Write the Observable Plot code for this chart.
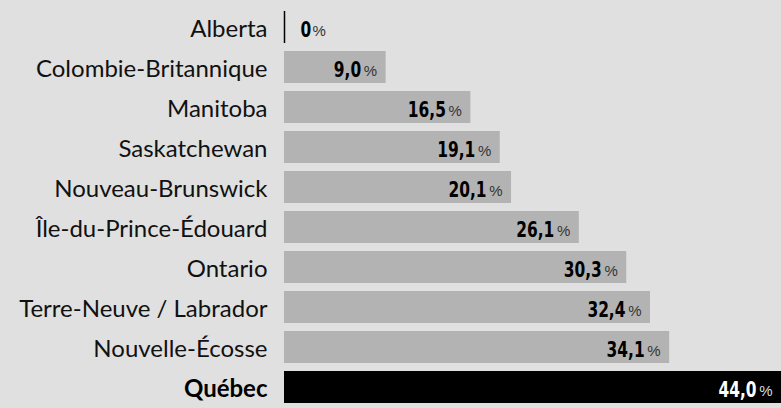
<!DOCTYPE html>
<html>
<head>
<meta charset="utf-8">
<script src="https://cdn.jsdelivr.net/npm/d3@7"></script>
<script src="https://cdn.jsdelivr.net/npm/@observablehq/plot@0.6"></script>
<style>
  html, body { margin: 0; padding: 0; background: #e0e0e0; }
  #chart svg { display: block; }
</style>
</head>
<body>
<div id="chart"></div>
<script>
const provinces = ["Alberta", "Colombie-Britannique", "Manitoba", "Saskatchewan", "Nouveau-Brunswick", "Île-du-Prince-Édouard", "Ontario", "Terre-Neuve / Labrador", "Nouvelle-Écosse", "Québec"];
const values = [0, 9.0, 16.5, 19.1, 20.1, 26.1, 30.3, 32.4, 34.1, 44.0];
const highlight = "Québec";

const data = provinces.map((p, i) => ({province: p, value: values[i]}));
const fmt = v => v === 0 ? "0" : v.toFixed(1).replace(".", ",");
const isHi = d => d.province === highlight;
const normal = data.filter(d => !isHi(d) && d.value > 0);
const hi = data.filter(isHi);
const zero = data.filter(d => d.value === 0);

const numFont = "'DejaVu Sans Condensed', 'DejaVu Sans', sans-serif";
const pctFont = "'Liberation Sans', Arial, sans-serif";
const labFont = "Lato, 'Noto Sans', sans-serif";

const chart = Plot.plot({
  width: 781,
  height: 408,
  marginLeft: 284,
  marginRight: 0,
  marginTop: 5,
  marginBottom: 0,
  style: {background: "#e0e0e0"},
  x: {domain: [0, 44], axis: null},
  y: {domain: provinces, paddingInner: 0.2, paddingOuter: 0.1, axis: null},
  marks: [
    Plot.barX(data, {x: "value", y: "province", fill: d => isHi(d) ? "#000000" : "#b3b3b3"}),
    Plot.tickX(zero, {x: "value", y: "province", stroke: "#000", strokeWidth: 1.5}),
    // province labels
    Plot.text(data.filter(d => !isHi(d)), {x: 0, y: "province", text: "province", textAnchor: "end", dx: -17, dy: 2, fontSize: 24, fill: "#111", fontFamily: labFont}),
    Plot.text(hi, {x: 0, y: "province", text: "province", textAnchor: "end", dx: -17, dy: 2, fontSize: 24, fontWeight: "bold", fill: "#000", fontFamily: labFont}),
    // value labels on bars
    Plot.text(normal, {x: "value", y: "province", text: d => fmt(d.value), textAnchor: "end", dx: -25, dy: 2.5, fontSize: 22, fontWeight: "bold", fill: "#000", fontFamily: numFont}),
    Plot.text(normal, {x: "value", y: "province", text: () => "%", textAnchor: "end", dx: -9, dy: 3.5, fontSize: 15, fill: "#333", fontFamily: pctFont}),
    Plot.text(hi, {x: "value", y: "province", text: d => fmt(d.value), textAnchor: "end", dx: -25, dy: 2.5, fontSize: 22, fontWeight: "bold", fill: "#fff", fontFamily: numFont}),
    Plot.text(hi, {x: "value", y: "province", text: () => "%", textAnchor: "end", dx: -9, dy: 3.5, fontSize: 15, fill: "#ddd", fontFamily: pctFont}),
    // zero value label
    Plot.text(zero, {x: "value", y: "province", text: d => fmt(d.value), textAnchor: "start", dx: 16, dy: 2.5, fontSize: 22, fontWeight: "bold", fill: "#000", fontFamily: numFont}),
    Plot.text(zero, {x: "value", y: "province", text: () => "%", textAnchor: "start", dx: 28, dy: 3.5, fontSize: 15, fill: "#333", fontFamily: pctFont})
  ]
});

// condense the number labels horizontally around their anchor points
chart.querySelectorAll("g[font-family*='DejaVu'] text").forEach(el => {
  const t = el.getAttribute("transform");
  if (t && t.includes("translate")) el.setAttribute("transform", t + " scale(0.78,1)");
});

document.getElementById("chart").appendChild(chart);
</script>
</body>
</html>
